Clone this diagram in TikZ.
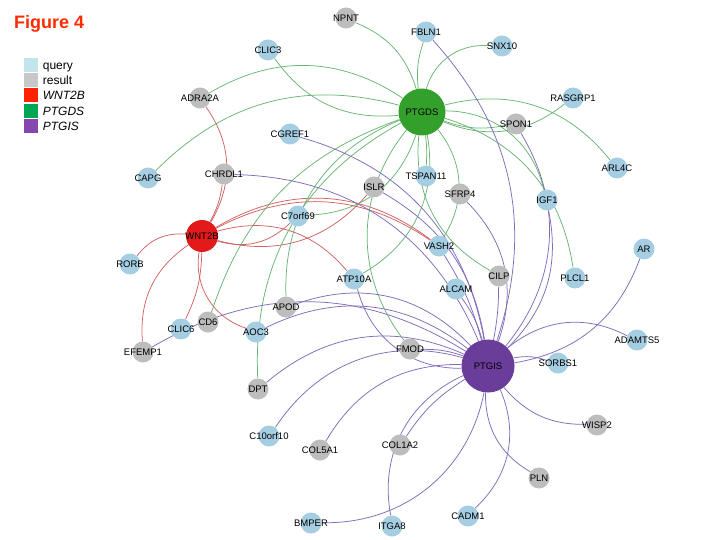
\documentclass[tikz,border=0pt]{standalone}
\usepackage{fontspec}
\setmainfont{Liberation Sans}
\pgfdeclarelayer{bglayer}
\pgfdeclarelayer{edgelayer}
\pgfsetlayers{bglayer,edgelayer,main}
\definecolor{qblue}{HTML}{A6CEE3}
\definecolor{rgray}{HTML}{BDBDBD}
\definecolor{wred}{HTML}{E31A1C}
\definecolor{ggreen}{HTML}{33A02C}
\definecolor{ppurple}{HTML}{6A3D9A}
\definecolor{titlered}{HTML}{FF2A00}
\definecolor{legq}{HTML}{C4E4EC}
\definecolor{legr}{HTML}{C8C8C8}
\definecolor{legw}{HTML}{FF2200}
\definecolor{legg}{HTML}{00A651}
\definecolor{legp}{HTML}{8646B0}
\definecolor{ered}{RGB}{208,98,98}
\definecolor{egreen}{RGB}{104,182,116}
\definecolor{epurple}{RGB}{128,108,186}
\begin{document}
\begin{tikzpicture}[x=1pt,y=-1pt,
  lbl/.style={font=\fontsize{9.5}{11}\selectfont, inner sep=0pt, text=black},
  qn/.style={circle, minimum size=21pt, inner sep=0pt, fill=qblue},
  rn/.style={circle, minimum size=21pt, inner sep=0pt, fill=rgray},
  hubw/.style={circle, minimum size=32pt, inner sep=0pt, fill=wred},
  hubg/.style={circle, minimum size=47pt, inner sep=0pt, fill=ggreen},
  hubp/.style={circle, minimum size=53pt, inner sep=0pt, fill=ppurple},
  re/.style={draw=ered, line width=0.75pt},
  ge/.style={draw=egreen, line width=0.75pt},
  pe/.style={draw=epurple, line width=0.75pt},
  legsq/.style={rectangle, minimum size=14pt, inner sep=0pt},
  legtxt/.style={anchor=base west, inner sep=0pt, font=\fontsize{12}{14}\selectfont}
]
\useasboundingbox (0,0) rectangle (720,540);
\begin{pgfonlayer}{bglayer}
\fill[white] (0,0) rectangle (720,540);
\end{pgfonlayer}

% title and legend
\node[anchor=base west, inner sep=0pt, font=\fontsize{18}{20}\selectfont\bfseries, text=titlered] (title) at (14,29) {Figure 4};
\node[legsq, fill=legq] (lq) at (31,65) {};
\node[legsq, fill=legr] (lr) at (31,80.2) {};
\node[legsq, fill=legw] (lw) at (31,95.4) {};
\node[legsq, fill=legg] (lg) at (31,110.6) {};
\node[legsq, fill=legp] (lp) at (31,125.8) {};
\node[legtxt] (lqt) at (42.7,69.5) {query};
\node[legtxt] (lrt) at (42.7,84.7) {result};
\node[legtxt] (lwt) at (42.7,99.9) {\itshape WNT2B};
\node[legtxt] (lgt) at (42.7,115.1) {\itshape PTGDS};
\node[legtxt] (lpt) at (42.7,130.3) {\itshape PTGIS};

% hubs
\node[hubw, label={[lbl]center:WNT2B}] (WNT2B) at (202,236) {};
\node[hubg, label={[lbl]center:PTGDS}] (PTGDS) at (422,112) {};
\node[hubp, label={[lbl]center:PTGIS}] (PTGIS) at (488,366) {};

% query nodes
\node[qn, label={[lbl]center:FBLN1}] (FBLN1) at (426,32) {};
\node[qn, label={[lbl]center:SNX10}] (SNX10) at (502,46) {};
\node[qn, label={[lbl]center:CLIC3}] (CLIC3) at (268,50) {};
\node[qn, label={[lbl]center:RASGRP1}] (RASGRP1) at (573,98) {};
\node[qn, label={[lbl]center:CGREF1}] (CGREF1) at (290,134) {};
\node[qn, label={[lbl]center:ARL4C}] (ARL4C) at (617,168) {};
\node[qn, label={[lbl]center:CAPG}] (CAPG) at (148,178) {};
\node[qn, label={[lbl]center:TSPAN11}] (TSPAN11) at (426,176) {};
\node[qn, label={[lbl]center:IGF1}] (IGF1) at (547,200) {};
\node[qn, label={[lbl]center:C7orf69}] (C7orf69) at (298,216) {};
\node[qn, label={[lbl]center:VASH2}] (VASH2) at (439,246) {};
\node[qn, label={[lbl]center:AR}] (AR) at (644,249) {};
\node[qn, label={[lbl]center:RORB}] (RORB) at (130,264) {};
\node[qn, label={[lbl]center:ATP10A}] (ATP10A) at (354,279) {};
\node[qn, label={[lbl]center:PLCL1}] (PLCL1) at (575,278) {};
\node[qn, label={[lbl]center:ALCAM}] (ALCAM) at (456,289) {};
\node[qn, label={[lbl]center:CLIC6}] (CLIC6) at (181,329) {};
\node[qn, label={[lbl]center:AOC3}] (AOC3) at (256,332) {};
\node[qn, label={[lbl]center:ADAMTS5}] (ADAMTS5) at (637,340) {};
\node[qn, label={[lbl]center:SORBS1}] (SORBS1) at (558,363) {};
\node[qn, label={[lbl]center:C10orf10}] (C10orf10) at (269,436) {};
\node[qn, label={[lbl]center:CADM1}] (CADM1) at (468,516) {};
\node[qn, label={[lbl]center:BMPER}] (BMPER) at (311,523) {};
\node[qn, label={[lbl]center:ITGA8}] (ITGA8) at (392,526) {};

% result nodes
\node[rn, label={[lbl]center:NPNT}] (NPNT) at (346,18) {};
\node[rn, label={[lbl]center:ADRA2A}] (ADRA2A) at (200,98) {};
\node[rn, label={[lbl]center:SPON1}] (SPON1) at (516,124) {};
\node[rn, label={[lbl]center:CHRDL1}] (CHRDL1) at (224,174) {};
\node[rn, label={[lbl]center:ISLR}] (ISLR) at (374,187) {};
\node[rn, label={[lbl]center:SFRP4}] (SFRP4) at (460,194) {};
\node[rn, label={[lbl]center:CILP}] (CILP) at (499,276) {};
\node[rn, label={[lbl]center:APOD}] (APOD) at (286,307) {};
\node[rn, label={[lbl]center:CD6}] (CD6) at (208,322) {};
\node[rn, label={[lbl]center:EFEMP1}] (EFEMP1) at (143,352) {};
\node[rn, label={[lbl]center:FMOD}] (FMOD) at (410,349) {};
\node[rn, label={[lbl]center:DPT}] (DPT) at (258,389) {};
\node[rn, label={[lbl]center:WISP2}] (WISP2) at (597,425) {};
\node[rn, label={[lbl]center:COL5A1}] (COL5A1) at (320,450) {};
\node[rn, label={[lbl]center:COL1A2}] (COL1A2) at (400,445) {};
\node[rn, label={[lbl]center:PLN}] (PLN) at (539,478) {};

\begin{pgfonlayer}{edgelayer}
% WNT2B edges
\draw[re] (ADRA2A) to[bend left=33] (WNT2B);
\draw[re] (CHRDL1) to[bend left=10] (WNT2B);
\draw[re] (RORB) to[bend left=28] (WNT2B);
\draw[re] (EFEMP1) to[bend left=30] (WNT2B);
\draw[re] (WNT2B) to[bend left=12] (CLIC6);
\draw[re] (WNT2B) to[bend right=40] (AOC3);
\draw[re] (WNT2B) to[bend right=30] (C7orf69);
\draw[re] (WNT2B) to[bend right=32] (ISLR);
\draw[re] (WNT2B) to[bend left=31] (VASH2);
\draw[re] (WNT2B) to[bend left=34] (VASH2);
\draw[re] (WNT2B) to[bend left=33] (ATP10A);
% PTGDS edges
\draw[ge] (NPNT) to[bend left=25] (PTGDS);
\draw[ge] (FBLN1) to[bend right=12] (PTGDS);
\draw[ge] (SNX10) to[bend right=40] (PTGDS);
\draw[ge] (CLIC3) to[bend right=30] (PTGDS);
\draw[ge] (ADRA2A) to[bend left=32] (PTGDS);
\draw[ge] (CAPG) to[bend left=30] (PTGDS);
\draw[ge] (RASGRP1) to[bend left=30] (PTGDS);
\draw[ge] (SPON1) to[bend left=15] (PTGDS);
\draw[ge] (PTGDS) to[bend left=33] (ARL4C);
\draw[ge] (PTGDS) to[bend left=38] (IGF1);
\draw[ge] (PTGDS) to[bend left=32] (PLCL1);
\draw[ge] (PTGDS) to[bend left=5] (TSPAN11);
\draw[ge] (PTGDS) to[bend left=35] (ATP10A);
\draw[ge] (PTGDS) to[bend right=33] (CILP);
\draw[ge] (PTGDS) to[bend left=35] (VASH2);
\draw[ge] (PTGDS) to[bend right=38] (FMOD);
\draw[ge] (C7orf69) to[bend right=35] (PTGDS);
\draw[ge] (APOD) to[bend left=35] (PTGDS);
\draw[ge] (DPT) to[bend left=32] (PTGDS);
\draw[ge] (CD6) to[bend left=26] (PTGDS);
% PTGIS edges
\draw[pe] (FBLN1) to[bend left=30] (PTGIS);
\draw[pe] (SPON1) to[bend left=35] (PTGIS);
\draw[pe] (IGF1) to[bend left=28] (PTGIS);
\draw[pe] (SFRP4) to[bend left=32] (PTGIS);
\draw[pe] (CILP) to[bend left=5] (PTGIS);
\draw[pe] (VASH2) to[bend left=8] (PTGIS);
\draw[pe] (CGREF1) to[bend left=32] (PTGIS);
\draw[pe] (CHRDL1) to[bend left=33] (PTGIS);
\draw[pe] (ISLR) to[bend left=25] (PTGIS);
\draw[pe] (ALCAM) to[bend left=10] (PTGIS);
\draw[pe] (ATP10A) to[bend right=38] (PTGIS);
\draw[pe] (FMOD) to[bend left=10] (PTGIS);
\draw[pe] (APOD) to[bend left=33] (PTGIS);
\draw[pe] (EFEMP1) to[bend left=31] (PTGIS);
\draw[pe] (AOC3) to[bend left=32] (PTGIS);
\draw[pe] (DPT) to[bend left=32] (PTGIS);
\draw[pe] (C10orf10) to[bend left=36] (PTGIS);
\draw[pe] (COL5A1) to[bend left=30] (PTGIS);
\draw[pe] (COL1A2) to[bend left=12] (PTGIS);
\draw[pe] (ITGA8) to[bend left=38] (PTGIS);
\draw[pe] (BMPER) to[bend right=40] (PTGIS);
\draw[pe] (PTGIS) to[bend left=35] (CADM1);
\draw[pe] (PTGIS) to[bend right=30] (PLN);
\draw[pe] (PTGIS) to[bend right=25] (WISP2);
\draw[pe] (PTGIS) to[bend left=15] (SORBS1);
\draw[pe] (PTGIS) to[bend left=33] (ADAMTS5);
\draw[pe] (AR) to[bend left=30] (PTGIS);
\end{pgfonlayer}
\end{tikzpicture}
\end{document}
